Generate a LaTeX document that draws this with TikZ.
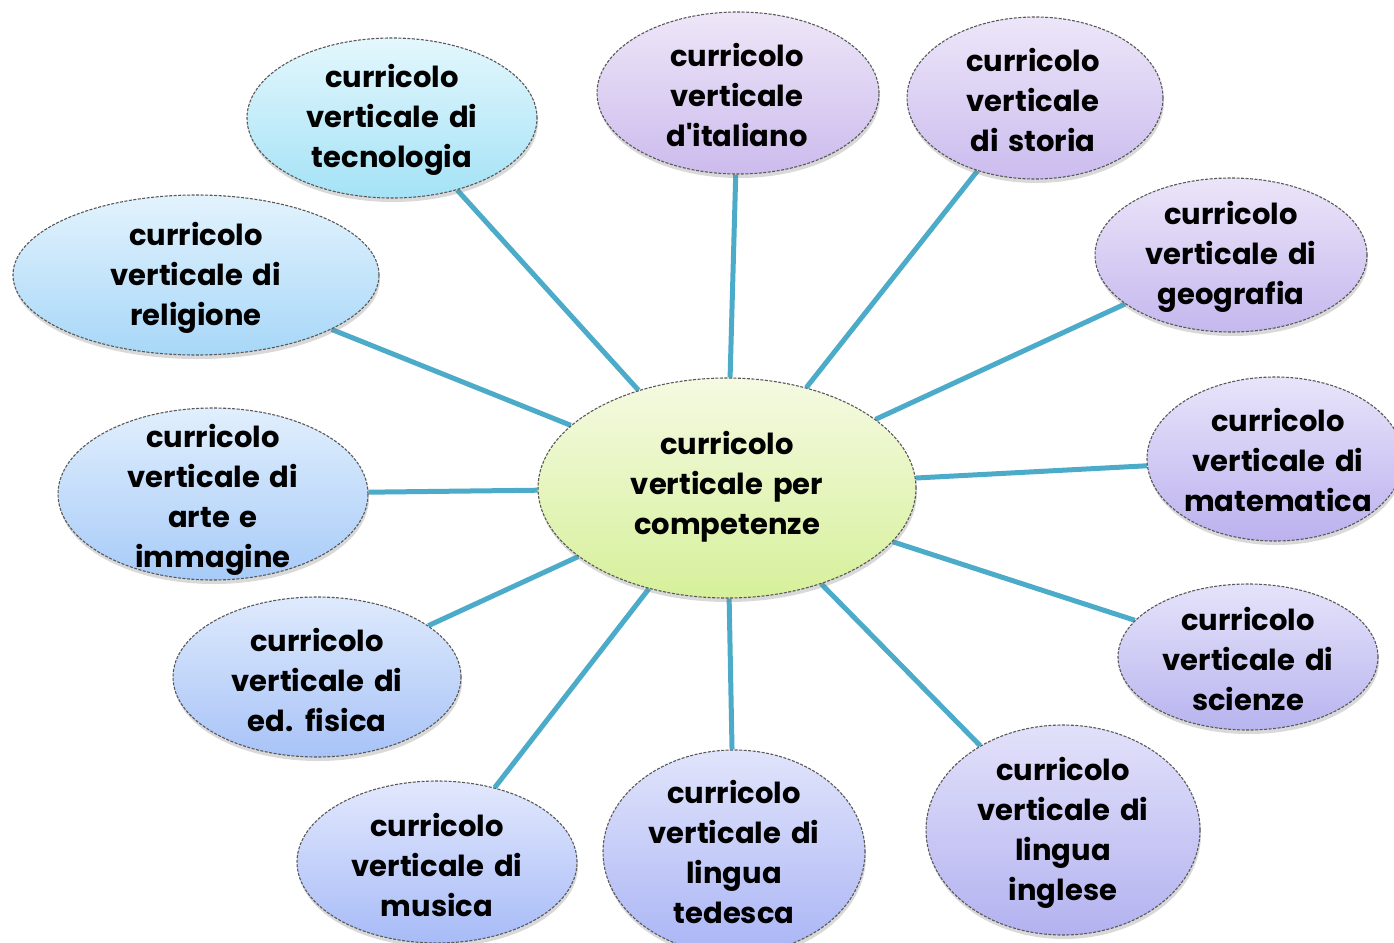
\documentclass[tikz,border=0pt]{standalone}
\usepackage{fontspec}
\setmainfont{Poppins}[BoldFont={* Bold}, Ligatures=TeXOff, WordSpace=1.6]
\usetikzlibrary{shapes.geometric,shadows,backgrounds}
\definecolor{link}{HTML}{4BABC8}
\definecolor{cT}{HTML}{F5FAE2}\definecolor{cB}{HTML}{D6F09A}
\definecolor{tecT}{HTML}{E4F7FD}\definecolor{tecB}{HTML}{A4E2F6}
\definecolor{relT}{HTML}{E3F3FD}\definecolor{relB}{HTML}{A7D7F8}
\definecolor{artT}{HTML}{E1EFFD}\definecolor{artB}{HTML}{A7CBF8}
\definecolor{fisT}{HTML}{DEEAFD}\definecolor{fisB}{HTML}{A8C3F7}
\definecolor{musT}{HTML}{E2E8FD}\definecolor{musB}{HTML}{A7BBF7}
\definecolor{tedT}{HTML}{E1E4FB}\definecolor{tedB}{HTML}{AAB5F5}
\definecolor{ingT}{HTML}{E2E1FA}\definecolor{ingB}{HTML}{B3B2F0}
\definecolor{sciT}{HTML}{E5E3FA}\definecolor{sciB}{HTML}{B8B4EF}
\definecolor{matT}{HTML}{E8E4FA}\definecolor{matB}{HTML}{BCB1EF}
\definecolor{geoT}{HTML}{EBE5F9}\definecolor{geoB}{HTML}{C5B8EE}
\definecolor{stoT}{HTML}{EDE6F9}\definecolor{stoB}{HTML}{CBBCEE}
\definecolor{itaT}{HTML}{EEE6F8}\definecolor{itaB}{HTML}{CCBBED}
\tikzset{
  bubble/.style={ellipse, inner sep=0pt, draw=black!65, line width=1.1pt,
    dash pattern=on 3pt off 1.5pt,
    drop shadow={opacity=0.3, shadow xshift=1pt, shadow yshift=-4pt}},
  label text/.style={align=center, font=\bfseries\fontsize{29}{40}\selectfont, inner sep=0pt},
  connector/.style={draw=link, line width=5pt}
}
\begin{document}
\begin{tikzpicture}[x=1pt,y=-1pt]
\useasboundingbox (0,0) rectangle (1394,942);
% bubbles
\node[bubble, top color=cT, bottom color=cB, minimum width=378pt, minimum height=220pt] (c) at (727,488) {};
\node[bubble, top color=tecT, bottom color=tecB, minimum width=290pt, minimum height=160pt] (tec) at (392,118) {};
\node[bubble, top color=relT, bottom color=relB, minimum width=366pt, minimum height=160pt] (rel) at (196,275) {};
\node[bubble, top color=artT, bottom color=artB, minimum width=310pt, minimum height=172pt] (art) at (213,494) {};
\node[bubble, top color=fisT, bottom color=fisB, minimum width=288pt, minimum height=160pt] (fis) at (317,677) {};
\node[bubble, top color=musT, bottom color=musB, minimum width=280pt, minimum height=162pt] (mus) at (437,862) {};
\node[bubble, top color=tedT, bottom color=tedB, minimum width=262pt, minimum height=204pt] (ted) at (734,852) {};
\node[bubble, top color=ingT, bottom color=ingB, minimum width=274pt, minimum height=210pt] (ing) at (1063,830) {};
\node[bubble, top color=sciT, bottom color=sciB, minimum width=260pt, minimum height=146pt] (sci) at (1248,657) {};
\node[bubble, top color=matT, bottom color=matB, minimum width=256pt, minimum height=164pt] (mat) at (1275,459) {};
\node[bubble, top color=geoT, bottom color=geoB, minimum width=272pt, minimum height=154pt] (geo) at (1231,255) {};
\node[bubble, top color=stoT, bottom color=stoB, minimum width=256pt, minimum height=162pt] (sto) at (1035,98) {};
\node[bubble, top color=itaT, bottom color=itaB, minimum width=282pt, minimum height=162pt] (ita) at (738,93) {};
% texts
\node[label text] (c-t) at (727,487) {curricolo\\verticale per\\competenze};
\node[label text] (tec-t) at (392,120) {curricolo\\verticale di\\tecnologia};
\node[label text] (rel-t) at (196,278) {curricolo\\verticale di\\religione};
\node[label text] (art-t) at (213,500) {curricolo\\verticale di\\arte e\\immagine};
\node[label text] (fis-t) at (317,680) {curricolo\\verticale di\\ed. fisica};
\node[label text] (mus-t) at (437,865) {curricolo\\verticale di\\musica};
\node[label text] (ted-t) at (734,852) {curricolo\\verticale di\\lingua\\tedesca};
\node[label text] (ing-t) at (1063,833) {curricolo\\verticale di\\lingua\\inglese};
\node[label text] (sci-t) at (1248,659) {curricolo\\verticale di\\scienze};
\node[label text] (mat-t) at (1278,460) {curricolo\\verticale di\\matematica};
\node[label text] (geo-t) at (1231,257) {curricolo\\verticale di\\geografia};
\node[label text] (sto-t) at (1033,100) {curricolo\\verticale\\di storia};
\node[label text] (ita-t) at (737,95) {curricolo\\verticale\\d'italiano};
% connectors
\begin{scope}[on background layer]
\foreach \n in {tec,rel,art,fis,mus,ted,ing,sci,mat,geo,sto,ita}
  \draw[connector] (c) -- (\n);
\end{scope}
\end{tikzpicture}
\end{document}
